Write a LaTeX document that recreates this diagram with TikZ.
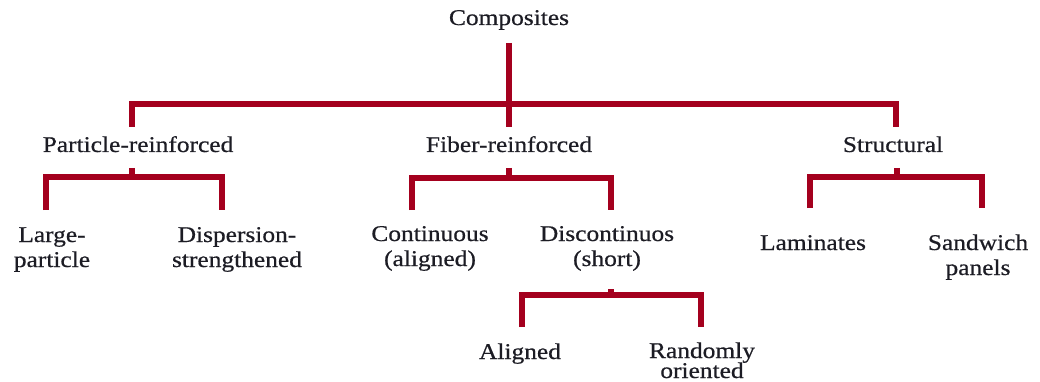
\documentclass[tikz,border=0pt]{standalone}
\usepackage{fontspec}
\setmainfont{Liberation Serif}[FakeStretch=1.13,FakeBold=0.6]
\definecolor{linkred}{RGB}{164,0,30}
\definecolor{labink}{RGB}{28,28,36}
\begin{document}
\begin{tikzpicture}[x=1pt,y=-1pt,
  lab/.style={anchor=base,align=center,inner sep=0pt,text=labink,
    font=\fontsize{22.5}{25}\selectfont},
  link/.style={draw=linkred,line width=6pt,line cap=butt,line join=miter}]
\useasboundingbox (0,0) rectangle (1040,382);

% labels (a node's base is the baseline of its last line)
\node[lab] (comp)   at (509,25)  {Composites};
\node[lab] (part)   at (138,152) {Particle-reinforced};
\node[lab] (fib)    at (509,152) {Fiber-reinforced};
\node[lab] (struct) at (893,152) {Structural};
\node[lab] (large)  at (52,267)  {Large-\\particle};
\node[lab] (disp)   at (237,267) {Dispersion-\\strengthened};
\node[lab] (cont)   at (430,266) {Continuous\\(aligned)};
\node[lab] (disc)   at (607,266) {Discontinuos\\(short)};
\node[lab] (lam)    at (813,250) {Laminates};
\node[lab] (sand)   at (978,275) {Sandwich\\panels};
\node[lab] (alig)   at (520,359) {Aligned};
\node[lab] (rand)   at (702,378) {Randomly\\[-5pt]oriented};

% junctions on the horizontal bars
\coordinate (jtop)  at ([yshift=48pt]fib.base);
\coordinate (jpart) at ([xshift=-6pt,yshift=-25pt]part.base);
\coordinate (jfib)  at ([xshift=0pt,yshift=-26pt]fib.base);
\coordinate (jstr)  at ([xshift=4pt,yshift=-25pt]struct.base);
\coordinate (jdisc) at ([xshift=4pt,yshift=-29pt]disc.base);

% first level
\draw[link] ([yshift=-18pt]comp.base) -- ([yshift=25pt]fib.base);
\draw[link] ([xshift=-6pt,yshift=25pt]part.base) |- (jtop)
            -| ([xshift=3pt,yshift=25pt]struct.base);

% particle-reinforced
\draw[link] ([xshift=-6pt,yshift=-16pt]part.base) -- (jpart);
\draw[link] ([xshift=-6pt,yshift=57pt]large.base) |- (jpart)
            -| ([xshift=-15pt,yshift=57pt]disp.base);

% fiber-reinforced
\draw[link] ([yshift=-16pt]fib.base) -- (jfib);
\draw[link] ([xshift=-18pt,yshift=56pt]cont.base) |- (jfib)
            -| ([xshift=4pt,yshift=56pt]disc.base);

% structural
\draw[link] ([xshift=4pt,yshift=-16pt]struct.base) -- (jstr);
\draw[link] ([xshift=-3pt,yshift=42pt]lam.base) |- (jstr)
            -| ([xshift=4pt,yshift=67pt]sand.base);

% discontinuous fibres
\draw[link] ([xshift=4pt,yshift=-23pt]disc.base) -- (jdisc);
\draw[link] ([xshift=2pt,yshift=32pt]alig.base) |- (jdisc)
            -| ([xshift=-1pt,yshift=51pt]rand.base);
\end{tikzpicture}
\end{document}
